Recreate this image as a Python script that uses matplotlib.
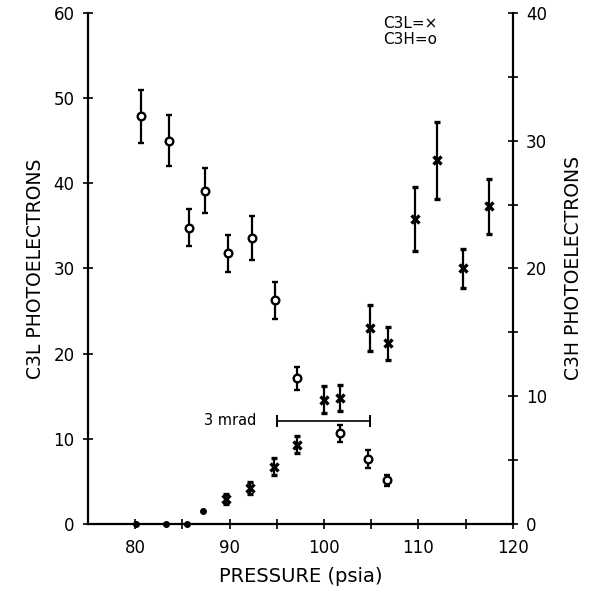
import matplotlib
matplotlib.use('Agg')
import matplotlib.pyplot as plt

# C3H (circles, right axis)
c3h_p = [80.6, 83.6, 85.7, 87.4, 89.8, 92.4, 94.8, 97.2, 101.7, 104.7, 106.7]
c3h = [31.9, 30.0, 23.2, 26.1, 21.2, 22.4, 17.5, 11.4, 7.1, 5.1, 3.4]
c3h_err = [2.1, 2.0, 1.45, 1.75, 1.45, 1.7, 1.45, 0.9, 0.65, 0.7, 0.4]

# C3L (crosses, left axis)
c3l_p = [89.6, 92.2, 94.7, 97.2, 100.0, 101.7, 104.9, 106.8, 109.6, 112.0, 114.7, 117.5]
c3l = [2.95, 4.2, 6.7, 9.3, 14.6, 14.8, 23.0, 21.2, 35.8, 42.7, 30.0, 37.3]
c3l_err = [0.6, 0.7, 1.0, 1.0, 1.55, 1.5, 2.75, 1.9, 3.75, 4.5, 2.3, 3.2]

# C3L points near zero, no error bars
c3l_low_p = [80.1, 83.3, 85.5, 87.2]
c3l_low = [0.0, 0.0, 0.0, 1.5]

# angular scale bar
bar_p = [95.0, 104.9]
bar_y = 12.1

fig = plt.figure(figsize=(5.9, 5.9), dpi=100)
ax = fig.add_axes([0.149, 0.112, 0.720, 0.866])
ax2 = ax.twinx()

ax.set_xlim(75, 120)
ax.set_ylim(0, 60)
ax2.set_ylim(0, 40)

for a in (ax, ax2):
    a.spines['top'].set_visible(False)
    for s in a.spines.values():
        s.set_linewidth(1.6)
ax.spines['right'].set_visible(False)
ax2.spines['left'].set_visible(False)
ax2.spines['bottom'].set_visible(False)

ax.errorbar(c3l_p, c3l, yerr=c3l_err, fmt='x', color='black', ms=6, mew=2.4,
            elinewidth=1.6, capsize=2, capthick=1.4, clip_on=False)
ax.plot(c3l_low_p, c3l_low, 'o', color='black', ms=4, clip_on=False, zorder=5)
ax2.errorbar(c3h_p, c3h, yerr=c3h_err, fmt='o', color='black', mfc='white', ms=5.5,
             mew=1.7, elinewidth=1.6, capsize=2, capthick=1.4)

ax.plot(bar_p, [bar_y, bar_y], '-', color='black', lw=1.2)
ax.plot(bar_p, [bar_y, bar_y], '|', color='black', ms=9, mew=1.4)
ax.text(90.05, bar_y, '3 mrad', ha='center', va='center', fontsize=10.5)

ax.text(0.696, 0.995, 'C3L=×', transform=ax.transAxes, fontsize=11, va='top')
ax.text(0.696, 0.962, 'C3H=o', transform=ax.transAxes, fontsize=11, va='top')

ax.set_xticks([80, 90, 100, 110, 120])
ax.set_xticks([85, 95, 105, 115], minor=True)
ax.set_yticks(range(0, 61, 10))
ax2.set_yticks(range(0, 41, 10))
ax2.set_yticks([5, 15, 25, 35], minor=True)

ax.tick_params(axis='x', which='both', direction='inout', length=7, width=1.2,
               labelsize=12, pad=7)
ax.tick_params(axis='y', direction='inout', length=7, width=1.2, labelsize=12, pad=6)
ax2.tick_params(axis='y', which='both', direction='inout', length=7, width=1.2,
                labelsize=12, pad=6)

ax.set_xlabel('PRESSURE (psia)', fontsize=14)
ax.xaxis.set_label_coords(0.5, -0.084)
ax.set_ylabel('C3L PHOTOELECTRONS', fontsize=13.5)
ax.yaxis.set_label_coords(-0.101, 0.5)
ax2.set_ylabel('C3H PHOTOELECTRONS', fontsize=13.5, rotation=90)
ax2.yaxis.set_label_coords(1.12, 0.5)

fig.savefig('out.png', dpi=100)
